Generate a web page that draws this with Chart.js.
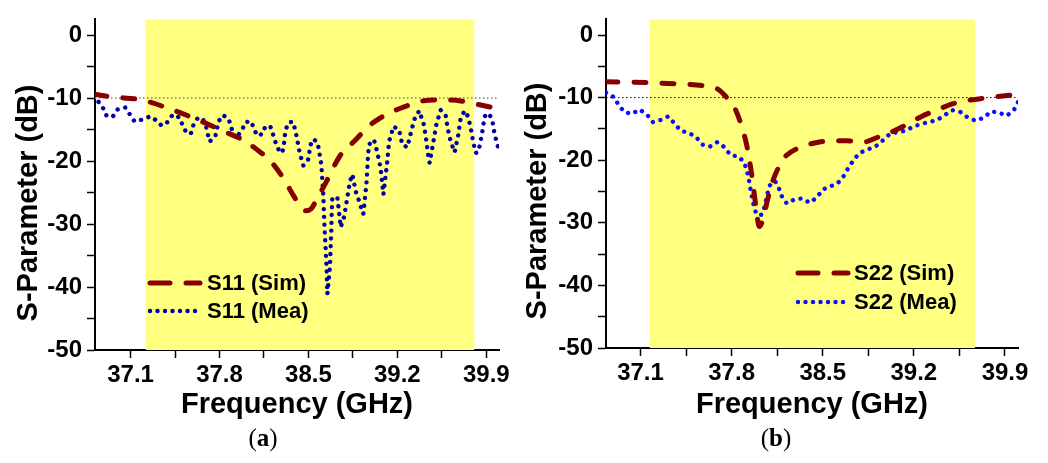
<!DOCTYPE html>
<html>
<head>
<meta charset="utf-8">
<script src="https://cdn.jsdelivr.net/npm/chart.js@4.4.0/dist/chart.umd.min.js"></script>
<style>
  body { margin: 0; background: #fff; width: 1048px; height: 463px; position: relative; overflow: hidden; }
  canvas { position: absolute; top: 0; }
  #chartA { left: 0; }
  #chartB { left: 524px; }
  .cap { position: absolute; top: 423px; width: 100px; line-height: 30px; text-align: center;
         font-family: "Liberation Serif", "DejaVu Serif", serif; font-size: 25px; color: #000; }
</style>
</head>
<body>
<canvas id="chartA" width="524" height="430"></canvas>
<canvas id="chartB" width="524" height="430"></canvas>
<div class="cap" style="left:213px">(<b>a</b>)</div>
<div class="cap" style="left:726px">(<b>b</b>)</div>
<script>
// axis ticks
const freqTicks = [37.1, 37.45, 37.8, 38.15, 38.5, 38.85, 39.2, 39.55, 39.9];
const freqTickLabels = ['37.1', '', '37.8', '', '38.5', '', '39.2', '', '39.9'];
const dbTicks = [-50, -45, -40, -35, -30, -25, -20, -15, -10, -5, 0];
const dbTickLabels = ['-50', '', '-40', '', '-30', '', '-20', '', '-10', '', '0'];
const refLevel = -10;

// (a) S11
const s11SimFreq = [36.82, 36.953, 37.189, 37.407, 37.635, 37.872, 37.98, 38.09, 38.202, 38.302, 38.386, 38.44, 38.48, 38.52, 38.56, 38.635, 38.754, 38.858, 38.99, 39.134, 39.279, 39.383, 39.528, 39.62, 39.764, 39.856, 40.0];
const s11SimDb = [-9.4, -9.8, -10.3, -11.7, -13.5, -15.6, -16.6, -18.1, -20.0, -22.7, -25.6, -27.3, -27.9, -27.6, -26.3, -23.5, -19.0, -16.9, -14.2, -12.4, -11.2, -10.5, -10.3, -10.3, -10.7, -11.1, -11.7];

const s11MeaFreq = [36.848, 36.887, 36.913, 36.961, 36.998, 37.058, 37.098, 37.131, 37.194, 37.255, 37.299, 37.346, 37.391, 37.433, 37.486, 37.509, 37.543, 37.575, 37.596, 37.628,
  37.667, 37.693, 37.706, 37.722, 37.767, 37.793, 37.827, 37.872, 37.898, 37.927, 37.974, 38.006, 38.05, 38.071, 38.098, 38.137, 38.163, 38.202, 38.224, 38.242,
  38.268, 38.294, 38.307, 38.32, 38.35, 38.381, 38.407, 38.431, 38.46, 38.496, 38.517, 38.539, 38.57, 38.583, 38.602, 38.609, 38.617, 38.622, 38.628, 38.635,
  38.643, 38.649, 38.669, 38.675, 38.68, 38.683, 38.688, 38.728, 38.754, 38.78, 38.793, 38.827, 38.846, 38.872, 38.898, 38.932, 38.958, 38.968, 38.976, 39.016,
  39.043, 39.068, 39.09, 39.121, 39.134, 39.153, 39.168, 39.213, 39.239, 39.279, 39.305, 39.323, 39.339, 39.373, 39.391, 39.409, 39.428, 39.444, 39.454, 39.47,
  39.488, 39.509, 39.541, 39.58, 39.598, 39.614, 39.633, 39.651, 39.68, 39.698, 39.73, 39.756, 39.783, 39.798, 39.817, 39.835, 39.85, 39.869, 39.887, 39.921,
  39.948, 39.966, 39.987, 40.0];
const s11MeaDb = [-10.6, -11.7, -12.9, -12.9, -11.8, -11.5, -12.7, -13.7, -13.4, -12.9, -13.5, -14.4, -13.8, -12.6, -13.1, -14.3, -15.6, -15.6, -14.2, -13.2,
  -13.2, -14.4, -15.6, -16.9, -16.1, -13.7, -12.7, -13.3, -15.0, -16.4, -15.2, -13.8, -13.7, -14.9, -16.0, -15.7, -14.4, -14.6, -15.9, -17.1,
  -18.3, -18.7, -17.4, -15.0, -13.8, -13.8, -16.1, -18.7, -20.7, -19.9, -17.4, -16.5, -17.0, -18.2, -20.6, -22.9, -25.3, -28.3, -31.0, -33.7,
  -36.9, -41.1, -36.9, -33.7, -31.0, -28.4, -25.8, -25.8, -30.5, -28.9, -27.4, -23.2, -22.1, -24.8, -26.3, -28.4, -23.2, -19.5, -17.4, -16.6,
  -18.7, -21.1, -25.3, -20.0, -16.9, -15.7, -14.5, -15.0, -17.4, -17.8, -15.6, -14.2, -13.1, -12.0, -13.2, -14.2, -16.8, -19.2, -20.3, -18.5,
  -16.4, -14.0, -11.9, -12.7, -15.0, -16.4, -17.6, -18.6, -15.8, -13.2, -12.0, -12.9, -15.3, -17.1, -18.7, -18.6, -17.4, -15.3, -12.9, -12.4,
  -13.6, -15.8, -17.3, -18.5];

// (b) S22
const s22SimFreq = [36.835, 37.15, 37.38, 37.59, 37.69, 37.75, 37.82, 37.885, 37.92, 37.947, 37.972, 37.987, 38.013, 38.043, 38.074, 38.115, 38.177, 38.217, 38.319, 38.447,
  38.576, 38.683, 38.81, 38.926, 39.028, 39.155, 39.259, 39.385, 39.496, 39.615, 39.751, 39.845, 40.0];
const s22SimDb = [-7.45, -7.6, -7.8, -8.1, -8.6, -9.7, -11.5, -15.1, -18.0, -21.3, -25.0, -27.5, -30.6, -29.3, -26.5, -23.4, -20.5, -19.3, -18.0, -17.2,
  -16.9, -16.9, -17.1, -16.3, -15.5, -14.2, -13.0, -11.9, -11.0, -10.45, -10.05, -9.83, -9.5];

const s22MeaFreq = [36.835, 36.895, 36.93, 36.975, 37.034, 37.092, 37.149, 37.195, 37.251, 37.315, 37.36, 37.41, 37.469, 37.527, 37.575, 37.635, 37.69, 37.744, 37.793, 37.852,
  37.895, 37.916, 37.928, 37.94, 37.948, 37.962, 37.972, 37.993, 38.031, 38.051, 38.064, 38.077, 38.095, 38.133, 38.164, 38.184, 38.223, 38.281, 38.338, 38.401,
  38.457, 38.499, 38.555, 38.614, 38.662, 38.695, 38.733, 38.779, 38.841, 38.9, 38.959, 39.015, 39.074, 39.135, 39.199, 39.258, 39.316, 39.378, 39.437, 39.496,
  39.557, 39.615, 39.674, 39.736, 39.795, 39.853, 39.914, 39.968, 40.0];
const s22MeaDb = [-9.2, -9.9, -11.1, -12.3, -12.6, -11.9, -12.7, -13.9, -13.6, -13.0, -14.1, -15.3, -15.6, -16.3, -17.5, -17.8, -17.1, -17.9, -19.2, -19.4,
  -20.3, -21.5, -22.7, -23.9, -25.1, -26.3, -27.5, -28.7, -28.7, -27.6, -26.4, -25.2, -24.0, -23.3, -24.5, -25.7, -26.9, -26.3, -26.1, -26.8,
  -25.9, -24.7, -24.2, -23.7, -22.5, -21.3, -20.1, -18.9, -18.3, -17.9, -16.9, -15.8, -15.5, -15.3, -14.6, -14.2, -13.9, -13.6, -12.8, -12.0,
  -12.3, -13.2, -13.7, -13.2, -12.2, -12.4, -12.9, -12.0, -10.7];

// shaded bands [from, to] in GHz
const bandA = [37.22, 39.805];
const bandB = [37.17, 39.67];

const simColor = '#870000';
const FONT = '"Liberation Sans", Arial, sans-serif';
Chart.defaults.font.family = FONT;
Chart.defaults.color = '#000';

function pairs(xs, ys) {
  return xs.map(function(x, i) { return {x: x, y: ys[i]}; });
}

// yellow band behind the curves
const bandPlugin = {
  id: 'band',
  beforeDatasetsDraw(chart, args, opts) {
    const x = chart.scales.x, a = chart.chartArea, ctx = chart.ctx;
    const x0 = x.getPixelForValue(opts.range[0]);
    const x1 = x.getPixelForValue(opts.range[1]);
    ctx.save();
    ctx.fillStyle = opts.color;
    ctx.fillRect(x0, a.top, x1 - x0, a.bottom - a.top);
    ctx.restore();
  }
};

// legend inside plot + rotated y title
const boxLegend = {
  id: 'boxLegend',
  afterDatasetsDraw(chart, args, opts) {
    const ctx = chart.ctx;
    opts.rows.forEach(function(row) {
      const ds = chart.data.datasets[row.index];
      ctx.save();
      ctx.strokeStyle = ds.borderColor;
      ctx.lineWidth = ds.borderWidth;
      ctx.lineCap = 'round';
      ctx.setLineDash(row.dash);
      ctx.beginPath();
      ctx.moveTo(opts.x, row.y);
      ctx.lineTo(opts.x + opts.len, row.y);
      ctx.stroke();
      ctx.setLineDash([]);
      ctx.fillStyle = '#000';
      ctx.font = 'bold 22px ' + FONT;
      ctx.textBaseline = 'middle';
      ctx.fillText(ds.label, opts.textX, row.y + 1);
      ctx.restore();
    });
  },
  afterDraw(chart, args, opts) {
    const ctx = chart.ctx;
    ctx.save();
    ctx.translate(opts.yTitle.x, opts.yTitle.y);
    ctx.rotate(-Math.PI / 2);
    ctx.font = 'bold 29px ' + FONT;
    ctx.fillStyle = '#000';
    ctx.textAlign = 'center';
    ctx.textBaseline = 'middle';
    ctx.fillText(opts.yTitle.text, 0, 0);
    ctx.restore();
  }
};

function makePanel(id, p) {
  return new Chart(document.getElementById(id), {
    type: 'line',
    data: {
      datasets: [
        {label: p.simLabel, data: pairs(p.simF, p.simDb), borderColor: simColor, borderWidth: 5,
         borderDash: [12, 16], borderCapStyle: 'round', cubicInterpolationMode: 'monotone', pointRadius: 0},
        {label: p.meaLabel, data: pairs(p.meaF, p.meaDb), borderColor: p.meaColor, borderWidth: 4.4,
         borderDash: [0.01, 7.8], borderCapStyle: 'round', borderJoinStyle: 'round', tension: 0, pointRadius: 0},
        {label: '-10 dB', data: [{x: p.xMin, y: refLevel}, {x: 40.0, y: refLevel}], borderColor: p.refColor,
         borderWidth: p.refWidth, borderDash: [1.5, 2.5], pointRadius: 0}
      ]
    },
    options: {
      responsive: false,
      animation: false,
      devicePixelRatio: 1,
      layout: {padding: {top: p.padTop, right: p.padRight, left: 0, bottom: 0}},
      plugins: {
        legend: {display: false},
        tooltip: {enabled: false},
        band: {range: p.band, color: '#ffff80'},
        boxLegend: p.legend
      },
      scales: {
        x: {
          type: 'linear', min: p.xMin, max: 40.0,
          afterFit: function(s) { s.height = p.xHeight; },
          afterBuildTicks: function(s) { s.ticks = freqTicks.map(function(v) { return {value: v}; }); },
          ticks: {autoSkip: false, maxRotation: 0, padding: 3, color: '#000',
                  font: {size: 24, weight: 'bold'},
                  callback: function(v, i) { return freqTickLabels[i]; }},
          grid: {drawOnChartArea: false, tickLength: 8, tickColor: '#000', tickWidth: 1.5},
          border: {color: '#000', width: 2},
          title: {display: true, text: 'Frequency (GHz)', color: '#000',
                  font: {size: 29, weight: 'bold', lineHeight: 1}, padding: {top: 0, bottom: 11}}
        },
        y: {
          type: 'linear', min: -50, max: 2.5,
          afterFit: function(s) { s.width = p.yWidth; },
          afterBuildTicks: function(s) { s.ticks = dbTicks.map(function(v) { return {value: v}; }); },
          ticks: {autoSkip: false, padding: 5, color: '#000', font: {size: 24, weight: 'bold'},
                  callback: function(v, i) { return dbTickLabels[i]; }},
          grid: {drawOnChartArea: false, tickLength: 8, tickColor: '#000', tickWidth: 1.5},
          border: {color: '#000', width: 2}
        }
      }
    },
    plugins: [bandPlugin, boxLegend]
  });
}

makePanel('chartA', {
  simF: s11SimFreq, simDb: s11SimDb, meaF: s11MeaFreq, meaDb: s11MeaDb,
  simLabel: 'S11 (Sim)', meaLabel: 'S11 (Mea)', meaColor: '#0000a8',
  refColor: '#808080', refWidth: 1.5, xMin: 36.82, band: bandA,
  padTop: 17, padRight: 25, yWidth: 95, xHeight: 80,
  legend: {x: 150, len: 50, textX: 207,
           rows: [{index: 0, y: 283, dash: [20, 16]}, {index: 1, y: 311, dash: [0.01, 7.5]}],
           yTitle: {text: 'S-Parameter (dB)', x: 29, y: 203}}
});

makePanel('chartB', {
  simF: s22SimFreq, simDb: s22SimDb, meaF: s22MeaFreq, meaDb: s22MeaDb,
  simLabel: 'S22 (Sim)', meaLabel: 'S22 (Mea)', meaColor: '#0d0dff',
  refColor: '#000', refWidth: 1, xMin: 36.835, band: bandB,
  padTop: 10, padRight: 30, yWidth: 82, xHeight: 82,
  legend: {x: 274, len: 50, textX: 330,
           rows: [{index: 0, y: 273, dash: [20, 16]}, {index: 1, y: 302, dash: [0.01, 7.5]}],
           yTitle: {text: 'S-Parameter (dB)', x: 14, y: 201}}
});
</script>
</body>
</html>
